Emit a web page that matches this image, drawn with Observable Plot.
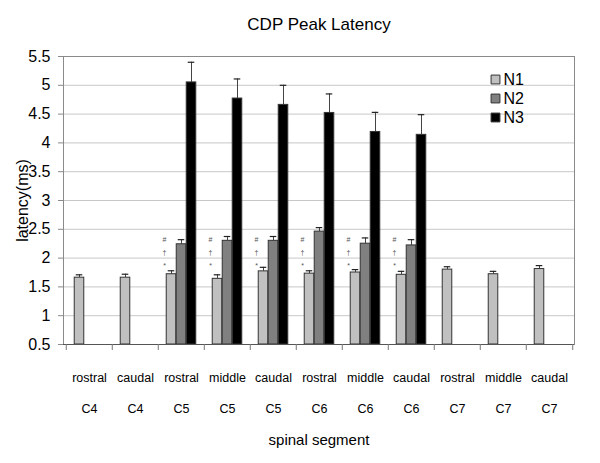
<!DOCTYPE html>
<html>
<head>
<meta charset="utf-8">
<script src="https://cdn.jsdelivr.net/npm/d3@7"></script>
<script src="https://cdn.jsdelivr.net/npm/@observablehq/plot@0.6"></script>
<style>
  body { margin: 0; background: #fff; }
  #wrap { position: relative; width: 600px; height: 463px; font-family: "Liberation Sans", Arial, sans-serif; }
  #legend { position: absolute; left: 488px; top: 69px; }
</style>
</head>
<body>
<div id="wrap"></div>
<script>
// ---- data ----
const positions = ["rostral","caudal","rostral","middle","caudal","rostral","middle","caudal","rostral","middle","caudal"];
const segments  = ["C4","C4","C5","C5","C5","C6","C6","C6","C7","C7","C7"];
const seriesNames = ["N1","N2","N3"];
const seriesColors = ["#c0c0c0","#808080","#000000"];
const N1    = [1.66,1.66,1.72,1.64,1.77,1.73,1.75,1.71,1.80,1.72,1.81];
const N1err = [0.05,0.06,0.06,0.07,0.07,0.05,0.05,0.06,0.05,0.05,0.06];
const N2    = [null,null,2.24,2.30,2.30,2.46,2.25,2.22,null,null,null];
const N2err = [null,null,0.08,0.075,0.075,0.07,0.10,0.10,null,null,null];
const N3    = [null,null,5.05,4.77,4.66,4.52,4.19,4.14,null,null,null];
const N3err = [null,null,0.35,0.34,0.34,0.33,0.34,0.35,null,null,null];
const markSymbols = ["#","†","*"];
const markLevels  = [2.31,2.10,1.87];
const markedGroups = [2,3,4,5,6,7];
const yTicks = [0.5,1,1.5,2,2.5,3,3.5,4,4.5,5,5.5];

// ---- build table ----
const keys = positions.map((p,i) => p + " " + segments[i]);
const vals = [N1,N2,N3], errs = [N1err,N2err,N3err];
const rows = [];
seriesNames.forEach((s,si) => keys.forEach((k,i) => {
  if (vals[si][i] != null) rows.push({key:k, series:s, si, value:vals[si][i], hi:vals[si][i]+errs[si][i]});
}));
const annots = [];
markedGroups.forEach(g => markSymbols.forEach((sym,j) => annots.push({key:keys[g], sym, y:markLevels[j]})));

const W = 600, H = 463, mL = 63, mR = 26, mT = 56, mB = 119;
const bw = (W - mL - mR) / keys.length;   // band width per group
const barW = 10, cap = 7;
const font = '"Liberation Sans", Arial, sans-serif';

const barMarks = seriesNames.flatMap((s,si) => {
  const o = (si - 1) * barW;
  const d = rows.filter(r => r.series === s);
  return [
    Plot.ruleX(d, {x:"key", y1:"value", y2:"hi", dx:o, stroke:"#444", strokeWidth:1}),
    Plot.tickY(d, {x:"key", y:"hi", stroke:"#222", strokeWidth:1.2,
      insetLeft: bw/2 + o - cap/2, insetRight: bw/2 - o - cap/2}),
    Plot.barY(d, {x:"key", y1:0.5, y2:"value", fill:"series", stroke:"#333", strokeWidth:1,
      insetLeft: (bw - barW)/2 + o, insetRight: (bw - barW)/2 - o})
  ];
});

const plot = Plot.plot({
  width: W, height: H,
  marginLeft: mL, marginRight: mR, marginTop: mT, marginBottom: mB,
  style: {fontFamily: font, background: "#fff", color: "#000"},
  x: {domain: keys, padding: 0, label: null},
  y: {domain: [0.5, 5.5], label: null},
  color: {domain: seriesNames, range: seriesColors},
  marks: [
    Plot.gridY(yTicks.slice(1, -1), {stroke: "#c8c8c8", strokeOpacity: 1}),
    Plot.frame({stroke: "#8a8a8a"}),
    ...barMarks,
    Plot.text(annots, {x:"key", y:"y", text:"sym", dx: -17, fontSize: 7, fill: "#555"}),
    Plot.axisY({ticks: yTicks, tickSize: 5, tickPadding: 8, tickFormat: d => String(d),
      fontSize: 16, stroke: "#8a8a8a", label: null}),
    Plot.ruleY([0.5], {stroke: "#555"}),
    Plot.axisX({tickSize: 6, dx: -bw/2, fill: "none", stroke: "#777", label: null}),
    Plot.axisX({ticks: [keys[keys.length-1]], tickSize: 6, dx: bw/2, fill: "none", stroke: "#777", label: null}),
    Plot.axisX({tickSize: 0, tickPadding: 29, tickFormat: k => k.split(" ")[0], fontSize: 12.5, label: null}),
    Plot.axisX({tickSize: 0, tickPadding: 60, tickFormat: k => k.split(" ")[1], fontSize: 12.5, label: null}),
    Plot.text(["latency(ms)"], {frameAnchor: "left", rotate: -90, dx: -41, textAnchor: "middle", lineAnchor: "middle", fontSize: 16}),
    Plot.text(["spinal segment"], {frameAnchor: "bottom", dy: 96, textAnchor: "middle", lineAnchor: "middle", fontSize: 15}),
    Plot.text(["CDP Peak Latency"], {frameAnchor: "top", dy: -32, textAnchor: "middle", lineAnchor: "middle", fontSize: 17})
  ]
});

// legend: a small Plot with a point y scale over the series
const legend = Plot.plot({
  width: 50, height: 57, margin: 0,
  style: {fontFamily: font, background: "transparent", overflow: "visible"},
  x: {axis: null}, y: {domain: seriesNames, axis: null, padding: 0.5},
  color: {domain: seriesNames, range: seriesColors},
  marks: [
    Plot.dot(seriesNames, {y: d => d, frameAnchor: "left", dx: 7, symbol: "square", r: 5, fill: d => d, stroke: "#333", strokeWidth: 1}),
    Plot.text(seriesNames, {y: d => d, frameAnchor: "left", dx: 15, textAnchor: "start", fontSize: 16, fill: "#000"})
  ]
});

const wrap = document.getElementById("wrap");
wrap.appendChild(plot);
legend.id = "legend";
wrap.appendChild(legend);
</script>
</body>
</html>
